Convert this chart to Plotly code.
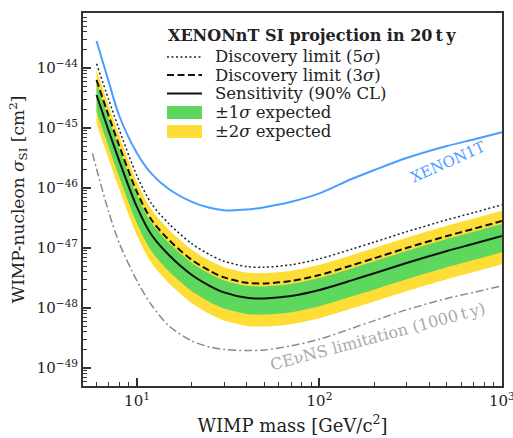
import numpy as np
import plotly.graph_objects as go

# WIMP mass grid [GeV/c^2]
mass = [6, 7, 8, 10, 12, 15, 20, 25, 30, 40, 50, 70, 100, 150, 200, 300, 500, 700, 1000]
mass_cevns = [5.7, 6, 7, 8, 10, 12, 15, 20, 25, 30, 40, 50, 70, 100, 150, 200, 300, 500, 700, 1000]

# log10 of cross sections [cm^2]
xenon1t_log = [-43.55, -44.23, -44.80, -45.42, -45.76, -46.02, -46.23, -46.33, -46.37, -46.36,
               -46.32, -46.23, -46.09, -45.85, -45.70, -45.50, -45.30, -45.19, -45.07]
sens_log = [-44.45, -45.05, -45.55, -46.32, -46.78, -47.12, -47.45, -47.63, -47.74, -47.83,
            -47.84, -47.80, -47.70, -47.54, -47.42, -47.25, -47.05, -46.93, -46.80]
disc5_log = [-43.93, -44.53, -45.03, -45.80, -46.26, -46.60, -46.93, -47.11, -47.22, -47.31,
             -47.32, -47.28, -47.18, -47.02, -46.90, -46.73, -46.53, -46.41, -46.28]
disc3_log = [-44.20, -44.80, -45.30, -46.07, -46.53, -46.87, -47.20, -47.38, -47.49, -47.58,
             -47.59, -47.55, -47.45, -47.29, -47.17, -47.00, -46.80, -46.68, -46.55]
green_hi_log = [-44.25, -44.85, -45.35, -46.12, -46.58, -46.92, -47.25, -47.43, -47.54, -47.63,
                -47.64, -47.60, -47.50, -47.34, -47.22, -47.05, -46.85, -46.73, -46.60]
green_lo_log = [-44.72, -45.32, -45.82, -46.59, -47.05, -47.39, -47.72, -47.90, -48.01, -48.10,
                -48.11, -48.07, -47.97, -47.81, -47.69, -47.52, -47.32, -47.20, -47.07]
yellow_hi_log = [-44.03, -44.63, -45.13, -45.90, -46.36, -46.70, -47.03, -47.21, -47.32, -47.41,
                 -47.42, -47.38, -47.28, -47.12, -47.00, -46.83, -46.63, -46.51, -46.38]
yellow_lo_log = [-44.92, -45.52, -46.02, -46.79, -47.25, -47.59, -47.92, -48.10, -48.21, -48.30,
                 -48.31, -48.27, -48.17, -48.01, -47.89, -47.72, -47.52, -47.40, -47.27]
cevns_log = [-45.42, -45.68, -46.40, -46.92, -47.55, -47.95, -48.30, -48.55, -48.65, -48.69,
             -48.71, -48.70, -48.63, -48.52, -48.34, -48.21, -48.03, -47.84, -47.74, -47.63]

# tick labels
x_tickvals = [10, 100, 1000]
x_ticktext = ["10<sup>1</sup>", "10<sup>2</sup>", "10<sup>3</sup>"]
y_tickvals = [1e-49, 1e-48, 1e-47, 1e-46, 1e-45, 1e-44]
y_ticktext = ["10<sup>\u221249</sup>", "10<sup>\u221248</sup>", "10<sup>\u221247</sup>",
              "10<sup>\u221246</sup>", "10<sup>\u221245</sup>", "10<sup>\u221244</sup>"]

# legend texts
legend_title = "<b>XENONnT SI projection in 20\u2009t\u2009y</b>"
legend_labels = ["Discovery limit (5<i>\u03c3</i>)", "Discovery limit (3<i>\u03c3</i>)",
                 "Sensitivity (90% CL)", "\u00b11<i>\u03c3</i> expected", "\u00b12<i>\u03c3</i> expected"]


def v(a):
    return np.power(10.0, np.array(a))


FONT = "DejaVu Serif"
GREEN = "#5dd75d"
YELLOW = "#fedd37"
BLUE = "#4b9dff"
DARK = "#222222"

DOT = "2px,2.5px"
DASH = "7px,3.5px"
DASHDOT = "8px,3px,2px,3px"

fig = go.Figure()
spl = dict(shape="spline", smoothing=0.8)

# 2 sigma band
fig.add_trace(go.Scatter(x=mass, y=v(yellow_lo_log), mode="lines",
                         line=dict(width=0, **spl), showlegend=False, hoverinfo="skip"))
fig.add_trace(go.Scatter(x=mass, y=v(yellow_hi_log), mode="lines", fill="tonexty",
                         fillcolor=YELLOW, line=dict(width=0, color=YELLOW, **spl), showlegend=False))
# 1 sigma band
fig.add_trace(go.Scatter(x=mass, y=v(green_lo_log), mode="lines",
                         line=dict(width=0, **spl), showlegend=False, hoverinfo="skip"))
fig.add_trace(go.Scatter(x=mass, y=v(green_hi_log), mode="lines", fill="tonexty",
                         fillcolor=GREEN, line=dict(width=0, color=GREEN, **spl), showlegend=False))
# CEvNS floor
fig.add_trace(go.Scatter(x=mass_cevns, y=v(cevns_log), mode="lines",
                         line=dict(color="#8a8a8a", width=1.5, dash=DASHDOT, **spl),
                         showlegend=False))
# XENON1T
fig.add_trace(go.Scatter(x=mass, y=v(xenon1t_log), mode="lines",
                         line=dict(color=BLUE, width=2, **spl), showlegend=False))
# discovery limits and sensitivity
fig.add_trace(go.Scatter(x=mass, y=v(disc5_log), mode="lines",
                         line=dict(color=DARK, width=1.5, dash=DOT, **spl), showlegend=False))
fig.add_trace(go.Scatter(x=mass, y=v(disc3_log), mode="lines",
                         line=dict(color="#111111", width=2, dash=DASH, **spl), showlegend=False))
fig.add_trace(go.Scatter(x=mass, y=v(sens_log), mode="lines",
                         line=dict(color="#111111", width=2, **spl), showlegend=False))

x_minor = [k * 10 ** n for n in range(0, 3) for k in range(2, 10)]
y_minor = [k * 10.0 ** n for n in range(-50, -43) for k in range(2, 10)]

axis_common = dict(
    type="log", showgrid=False, zeroline=False, automargin=False,
    showline=True, linecolor="#333333", linewidth=2, mirror=True,
    ticks="inside", ticklen=8, tickwidth=1.5, tickcolor="#333333",
    tickfont=dict(family=FONT, size=15, color=DARK), ticklabeloverflow="allow",
)

fig.update_layout(
    width=513, height=438,
    margin=dict(l=83, r=11, t=13, b=52),
    paper_bgcolor="white", plot_bgcolor="white",
    font=dict(family=FONT, color=DARK),
    showlegend=False,
    xaxis=dict(range=[0.704, 3.0005], tickmode="array", tickvals=x_tickvals, ticktext=x_ticktext,
               minor=dict(tickmode="array", tickvals=x_minor, ticks="inside", ticklen=4,
                          tickwidth=1, tickcolor="#333333", showgrid=False),
               title=dict(text="WIMP mass [GeV/c<sup>2</sup>]", font=dict(family=FONT, size=18), standoff=10),
               **axis_common),
    yaxis=dict(range=[-49.3, -43.083], tickmode="array", tickvals=y_tickvals, ticktext=y_ticktext,
               minor=dict(tickmode="array", tickvals=y_minor, ticks="inside", ticklen=4,
                          tickwidth=1, tickcolor="#333333", showgrid=False),
               title=dict(text="WIMP-nucleon <i>\u03c3</i><sub>SI</sub> [cm<sup>2</sup>]",
                          font=dict(family=FONT, size=17), standoff=8),
               **axis_common),
)

# ---- hand-placed legend (paper coordinates of the plot area) ----
L, R, T, B = 83, 502, 13, 386


def px(xp):
    return (xp - L) / (R - L)


def py(yp):
    return (B - yp) / (B - T)


fig.add_annotation(x=px(166), y=py(35), xref="paper", yref="paper", xanchor="left", yanchor="middle",
                   text=legend_title, showarrow=False, font=dict(family=FONT, size=16, color=DARK))
row_y = [57, 75, 93.5, 112.5, 131.5]
line_styles = [dict(color=DARK, width=1.5, dash=DOT), dict(color="#111111", width=2, dash=DASH),
               dict(color="#111111", width=2)]
for i, yy in enumerate(row_y):
    if i < 3:
        fig.add_shape(type="line", xref="paper", yref="paper", x0=px(167), x1=px(202),
                      y0=py(yy), y1=py(yy), line=line_styles[i])
    else:
        col = GREEN if i == 3 else YELLOW
        fig.add_shape(type="rect", xref="paper", yref="paper", x0=px(167), x1=px(202),
                      y0=py(yy - 6.5), y1=py(yy + 6.5), fillcolor=col, line=dict(width=0))
    fig.add_annotation(x=px(213), y=py(yy), xref="paper", yref="paper", xanchor="left", yanchor="middle",
                       text=legend_labels[i], showarrow=False, font=dict(family=FONT, size=16.5, color=DARK))

fig.add_annotation(x=2.704, y=-45.57, xref="x", yref="y", text="XENON1T", showarrow=False,
                   textangle=-24, font=dict(family=FONT, size=15, color=BLUE))
fig.add_annotation(x=2.32, y=-48.48, xref="x", yref="y", text="CE\u03bdNS limitation (1000\u2009t\u2009y)",
                   showarrow=False, textangle=-15, font=dict(family=FONT, size=16, color="#aaaaaa"))

fig.write_html("out.html")
